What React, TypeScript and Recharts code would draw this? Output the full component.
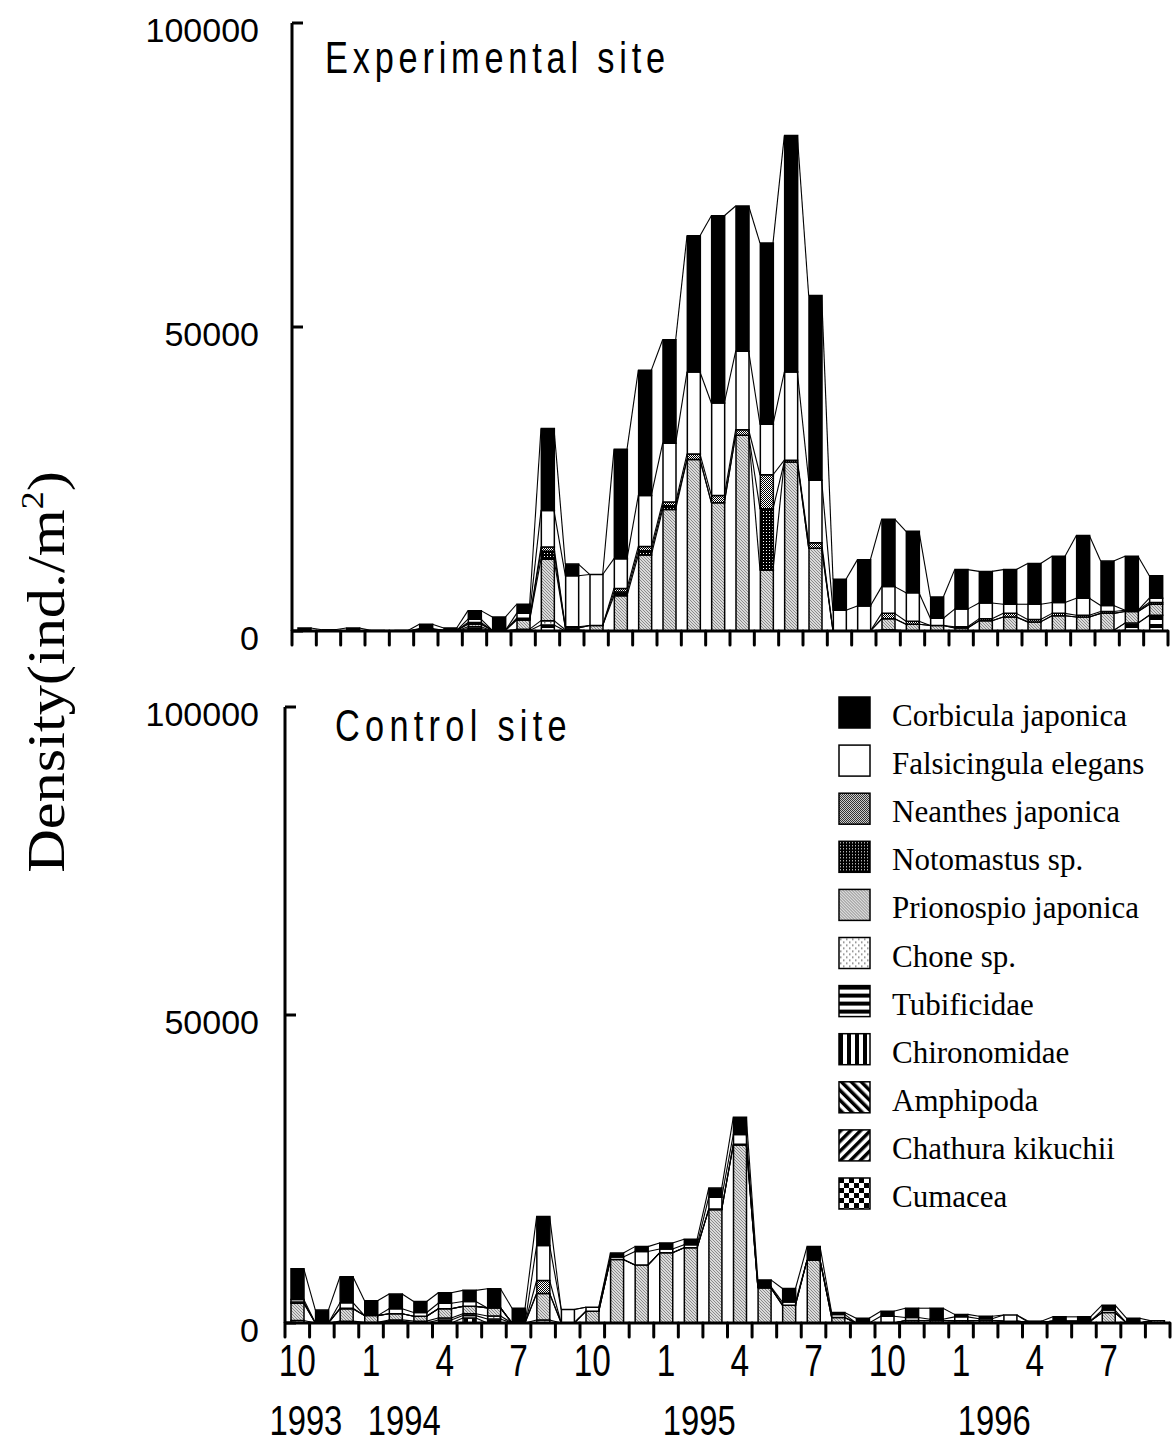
import React from 'react';
import { ComposedChart, Bar, Line, XAxis, YAxis, Legend } from 'recharts';

// ---------- categories & tick labels ----------
const months = [
  'Oct 1993', 'Nov 1993', 'Dec 1993', 'Jan 1994', 'Feb 1994', 'Mar 1994', 'Apr 1994', 'May 1994', 'Jun 1994',
  'Jul 1994', 'Aug 1994', 'Sep 1994', 'Oct 1994', 'Nov 1994', 'Dec 1994', 'Jan 1995', 'Feb 1995', 'Mar 1995',
  'Apr 1995', 'May 1995', 'Jun 1995', 'Jul 1995', 'Aug 1995', 'Sep 1995', 'Oct 1995', 'Nov 1995', 'Dec 1995',
  'Jan 1996', 'Feb 1996', 'Mar 1996', 'Apr 1996', 'May 1996', 'Jun 1996', 'Jul 1996', 'Aug 1996', 'Sep 1996',
];
const monthTickLabels = [
  '10', '', '', '1', '', '', '4', '', '', '7', '', '', '10', '', '', '1', '', '', '4', '', '', '7', '', '',
  '10', '', '', '1', '', '', '4', '', '', '7', '', '',
];
const yearTickLabels = [
  '1993', '', '', '', '1994', '', '', '', '', '', '', '', '', '', '', '', '1995', '', '', '', '', '', '', '',
  '', '', '', '', '1996', '', '', '', '', '', '', '',
];
const densityTicks = [0, 50000, 100000];

// ---------- species (legend order, top of stack first) ----------
const speciesNames = [
  'Corbicula japonica', 'Falsicingula elegans', 'Neanthes japonica', 'Notomastus sp.', 'Prionospio japonica',
  'Chone sp.', 'Tubificidae', 'Chironomidae', 'Amphipoda', 'Chathura kikuchii', 'Cumacea',
];
const speciesKeys = [
  'corbicula', 'falsicingula', 'neanthes', 'notomastus', 'prionospio', 'chone', 'tubificidae', 'chironomidae',
  'amphipoda', 'chathura', 'cumacea',
];

// ---------- Experimental site (ind./m2) ----------
const expCorbicula = [500, 200, 500, 100, 100, 700, 400, 1400, 2200, 1500, 13500, 1900, 0, 18000, 20600, 17000, 22400, 30800, 23900, 29800, 38900, 30400, 5100, 7600, 11100, 10100, 3500, 6500, 5200, 5700, 6700, 7600, 10300, 7300, 8900, 3700];
const expFalsicingula = [0, 0, 0, 0, 0, 100, 0, 550, 0, 800, 6000, 8400, 8400, 4900, 8400, 9700, 13500, 15200, 12900, 8300, 14500, 10300, 3400, 4100, 4400, 4700, 1200, 2900, 2600, 1500, 2500, 1800, 2800, 1000, 0, 700];
const expNeanthes = [0, 0, 0, 0, 0, 100, 0, 200, 0, 200, 700, 200, 0, 600, 700, 600, 900, 1200, 900, 5600, 300, 900, 0, 0, 900, 500, 0, 200, 300, 600, 400, 400, 300, 300, 200, 300];
const expNotomastus = [0, 0, 0, 0, 0, 0, 0, 100, 0, 100, 1300, 0, 0, 600, 700, 600, 0, 0, 0, 10100, 0, 0, 0, 0, 0, 0, 0, 0, 0, 0, 0, 0, 0, 0, 0, 0];
const expPrionospio = [0, 0, 0, 0, 0, 200, 100, 400, 100, 1500, 10100, 300, 900, 5800, 12500, 20000, 28200, 21100, 32200, 10000, 27800, 13600, 0, 0, 1800, 1100, 900, 500, 1700, 2300, 1500, 2500, 2300, 2800, 1900, 1800];
const expChone = [0, 0, 0, 0, 0, 0, 0, 300, 0, 200, 700, 200, 0, 0, 0, 0, 0, 0, 0, 0, 0, 0, 0, 0, 200, 0, 0, 0, 0, 0, 0, 0, 0, 0, 0, 0];
const expTubificidae = [0, 0, 0, 0, 0, 0, 0, 200, 0, 100, 1000, 0, 0, 0, 0, 0, 0, 0, 0, 0, 0, 0, 0, 0, 0, 0, 0, 0, 0, 0, 0, 0, 0, 100, 1200, 2600];
const expChironomidae = [0, 0, 0, 0, 0, 0, 0, 100, 0, 0, 0, 0, 0, 0, 0, 0, 0, 0, 0, 0, 0, 0, 0, 0, 0, 0, 0, 0, 0, 0, 0, 0, 0, 0, 0, 0];
const expAmphipoda = [0, 0, 0, 0, 0, 0, 0, 100, 0, 0, 0, 0, 0, 0, 0, 0, 0, 0, 0, 0, 0, 0, 0, 0, 0, 0, 0, 0, 0, 0, 0, 0, 0, 0, 0, 0];
const expChathura = [0, 0, 0, 0, 0, 0, 0, 0, 0, 0, 0, 0, 0, 0, 0, 0, 0, 0, 0, 0, 0, 0, 0, 0, 0, 0, 0, 0, 0, 0, 0, 0, 0, 0, 100, 0];
const expCumacea = [0, 0, 0, 0, 0, 0, 0, 0, 0, 0, 0, 0, 0, 0, 0, 0, 0, 0, 0, 0, 0, 0, 0, 0, 0, 0, 0, 0, 0, 0, 0, 0, 0, 0, 0, 0];

// ---------- Control site (ind./m2) ----------
const ctlCorbicula = [5000, 2100, 4200, 2400, 2400, 1800, 1700, 1800, 3100, 2400, 4700, 0, 0, 650, 800, 1000, 900, 1500, 2800, 1100, 2200, 2200, 300, 760, 800, 1500, 1800, 400, 400, 0, 200, 700, 700, 800, 760, 0];
const ctlFalsicingula = [400, 0, 900, 0, 800, 600, 900, 800, 0, 0, 5700, 2200, 650, 400, 2200, 600, 500, 1900, 1600, 200, 500, 0, 500, 0, 1100, 500, 200, 650, 300, 1000, 0, 0, 0, 400, 0, 0];
const ctlNeanthes = [200, 0, 100, 0, 0, 0, 0, 0, 0, 0, 2100, 0, 0, 0, 0, 0, 0, 100, 100, 0, 0, 0, 0, 0, 0, 0, 0, 0, 0, 0, 0, 0, 0, 0, 0, 0];
const ctlNotomastus = [0, 0, 0, 0, 0, 0, 0, 0, 0, 0, 0, 0, 0, 0, 0, 0, 0, 0, 0, 0, 0, 0, 0, 0, 0, 0, 0, 0, 0, 0, 0, 0, 0, 0, 0, 0];
const ctlPrionospio = [2800, 0, 2000, 1100, 1000, 800, 1500, 1200, 1300, 0, 4300, 0, 1900, 10300, 9400, 11400, 12200, 18400, 28900, 5700, 2900, 10200, 900, 0, 0, 300, 300, 350, 300, 200, 100, 200, 200, 1700, 0, 350];
const ctlChone = [400, 0, 300, 100, 200, 300, 300, 300, 500, 0, 500, 0, 0, 0, 0, 0, 0, 0, 0, 0, 0, 0, 0, 0, 0, 100, 100, 0, 100, 100, 0, 100, 100, 0, 0, 0];
const ctlTubificidae = [0, 0, 0, 0, 0, 0, 500, 400, 650, 0, 0, 0, 0, 0, 0, 0, 0, 0, 0, 0, 0, 0, 0, 0, 0, 0, 0, 0, 0, 0, 0, 0, 0, 0, 0, 0];
const ctlChironomidae = [0, 0, 0, 0, 300, 0, 0, 800, 0, 0, 0, 0, 0, 0, 0, 0, 0, 0, 0, 0, 0, 0, 0, 0, 0, 0, 0, 0, 0, 0, 0, 0, 0, 0, 0, 0];
const ctlAmphipoda = [0, 0, 0, 0, 0, 0, 0, 0, 0, 0, 0, 0, 0, 0, 0, 0, 0, 0, 0, 0, 0, 0, 0, 0, 0, 0, 0, 0, 0, 0, 0, 0, 0, 0, 0, 0];
const ctlChathura = [0, 0, 0, 0, 0, 0, 0, 0, 0, 0, 0, 0, 0, 0, 0, 0, 0, 0, 0, 0, 0, 0, 0, 0, 0, 0, 0, 0, 0, 0, 0, 0, 0, 0, 0, 0];
const ctlCumacea = [0, 0, 0, 0, 0, 0, 0, 0, 0, 0, 0, 0, 0, 0, 0, 0, 0, 0, 0, 0, 0, 0, 0, 0, 0, 0, 0, 0, 0, 0, 0, 0, 0, 0, 0, 0];

const expSeries = [expCorbicula, expFalsicingula, expNeanthes, expNotomastus, expPrionospio, expChone, expTubificidae, expChironomidae, expAmphipoda, expChathura, expCumacea];
const ctlSeries = [ctlCorbicula, ctlFalsicingula, ctlNeanthes, ctlNotomastus, ctlPrionospio, ctlChone, ctlTubificidae, ctlChironomidae, ctlAmphipoda, ctlChathura, ctlCumacea];

// ---------- styling ----------
const patternIds = ['p-corb', 'p-fals', 'p-nean', 'p-noto', 'p-prio', 'p-chon', 'p-tubi', 'p-chir', 'p-amph', 'p-chat', 'p-cuma'];
const BAR_SIZE = 13;
const SANS = "'Liberation Sans', Arial, Helvetica, sans-serif";
const SERIF = "'Liberation Serif', 'Times New Roman', Times, serif";

const buildRows = (series: number[][]) =>
  months.map((m, i) => {
    const row: Record<string, any> = { month: m };
    speciesKeys.forEach((k, s) => {
      row[k] = series[s][i];
    });
    return row;
  });

const expData = buildRows(expSeries);
const ctlData = buildRows(ctlSeries);

// stack order from bottom to top
const stackKeys = [...speciesKeys].reverse();
const stackPatterns = [...patternIds].reverse();

const cumulative = (row: Record<string, any>, level: number) => {
  let s = 0;
  for (let i = 0; i <= level; i++) s += row[stackKeys[i]] || 0;
  return s;
};

const Patterns = () => (
  <svg width={0} height={0} style={{ position: 'absolute' }}>
    <defs>
      <pattern id="p-corb" width="4" height="4" patternUnits="userSpaceOnUse">
        <rect width="4" height="4" fill="#000" />
      </pattern>
      <pattern id="p-fals" width="4" height="4" patternUnits="userSpaceOnUse">
        <rect width="4" height="4" fill="#fff" />
      </pattern>
      <pattern id="p-nean" width="2" height="2" patternUnits="userSpaceOnUse">
        <rect width="2" height="2" fill="#fff" />
        <rect width="1" height="1" fill="#000" />
        <rect x="1" y="1" width="1" height="1" fill="#000" />
      </pattern>
      <pattern id="p-noto" width="3" height="3" patternUnits="userSpaceOnUse">
        <rect width="3" height="3" fill="#000" />
        <rect x="1" y="1" width="1" height="1" fill="#fff" />
      </pattern>
      <pattern id="p-prio" width="3" height="3" patternUnits="userSpaceOnUse">
        <rect width="3" height="3" fill="#dadada" />
        <rect x="0" y="0" width="1" height="1" fill="#8a8a8a" />
        <rect x="1" y="1" width="1" height="1" fill="#8a8a8a" />
        <rect x="2" y="2" width="1" height="1" fill="#8a8a8a" />
      </pattern>
      <pattern id="p-chon" width="6" height="6" patternUnits="userSpaceOnUse">
        <rect width="6" height="6" fill="#fff" />
        <rect x="1" y="1" width="1.5" height="1.5" fill="#777" />
        <rect x="4" y="4" width="1.5" height="1.5" fill="#777" />
      </pattern>
      <pattern id="p-tubi" width="8" height="8" patternUnits="userSpaceOnUse">
        <rect width="8" height="8" fill="#fff" />
        <rect width="8" height="4" fill="#000" />
      </pattern>
      <pattern id="p-chir" width="8" height="8" patternUnits="userSpaceOnUse">
        <rect width="8" height="8" fill="#fff" />
        <rect width="4" height="8" fill="#000" />
      </pattern>
      <pattern id="p-amph" width="7" height="7" patternUnits="userSpaceOnUse" patternTransform="rotate(-45)">
        <rect width="7" height="7" fill="#fff" />
        <rect width="3.5" height="7" fill="#000" />
      </pattern>
      <pattern id="p-chat" width="7" height="7" patternUnits="userSpaceOnUse" patternTransform="rotate(45)">
        <rect width="7" height="7" fill="#fff" />
        <rect width="3.5" height="7" fill="#000" />
      </pattern>
      <pattern id="p-cuma" width="10" height="10" patternUnits="userSpaceOnUse">
        <rect width="10" height="10" fill="#fff" />
        <rect width="5" height="5" fill="#000" />
        <rect x="5" y="5" width="5" height="5" fill="#000" />
      </pattern>
    </defs>
  </svg>
);

// series line joining the stack boundaries of neighbouring columns
const connectorDot = (props: any) => {
  const { cx, cy, index, points } = props;
  const next = Array.isArray(points) ? points[index + 1] : undefined;
  if (cx == null || cy == null || !next || next.x == null || next.y == null) {
    return <g key={`cn-${index}`} />;
  }
  return (
    <line
      key={`cn-${index}`}
      x1={cx + BAR_SIZE / 2}
      y1={cy}
      x2={next.x - BAR_SIZE / 2}
      y2={next.y}
      stroke="#000"
      strokeWidth={1.1}
    />
  );
};

const MonthTick = (props: any) => {
  const { x, y, payload, width, showLabels } = props;
  const count = months.length;
  const band = typeof width === 'number' && width > 0 ? width / count : (payload?.offset || 12) * 2;
  const idx = payload?.index ?? 0;
  const left = x - band / 2;
  const label = monthTickLabels[idx];
  const year = yearTickLabels[idx];
  return (
    <g>
      <line x1={left} y1={y} x2={left} y2={y + 14} stroke="#000" strokeWidth={3} strokeLinecap="round" />
      {idx === count - 1 && (
        <line x1={x + band / 2} y1={y} x2={x + band / 2} y2={y + 14} stroke="#000" strokeWidth={3} strokeLinecap="round" />
      )}
      {showLabels && label && (
        <g transform={`translate(${x},${y + 53}) scale(0.76,1)`}>
          <text x={0} y={0} textAnchor="middle" fontSize={44} fontFamily={SANS} fill="#000">
            {label}
          </text>
        </g>
      )}
      {showLabels && year && (
        <g transform={`translate(${x + band * 0.35},${y + 112}) scale(0.78,1)`}>
          <text x={0} y={0} textAnchor="middle" fontSize={42} fontFamily={SANS} fill="#000">
            {year}
          </text>
        </g>
      )}
    </g>
  );
};

const DensityTick = (props: any) => {
  const { x, y, payload, gap } = props;
  return (
    <g>
      <line x1={x} y1={y} x2={x + 11} y2={y} stroke="#000" strokeWidth={3} />
      <text x={x - gap} y={y + 19} textAnchor="end" fontSize={34} fontFamily={SANS} fill="#000">
        {payload.value}
      </text>
    </g>
  );
};

const SpeciesLegend = () => (
  <svg width={330} height={540}>
    {speciesNames.map((name, i) => (
      <g key={name} transform={`translate(1,${1 + i * 48.1})`}>
        <rect x={0} y={0} width={31} height={31} fill={`url(#${patternIds[i]})`} stroke="#000" strokeWidth={1.5} />
        <text x={53} y={29} fontSize={31} fontFamily={SERIF} fill="#000">
          {name}
        </text>
      </g>
    ))}
  </svg>
);

type SiteProps = {
  data: Record<string, any>[];
  width: number;
  height: number;
  margin: { top: number; right: number; bottom: number; left: number };
  xAxisHeight: number;
  yLabelGap: number;
  showLabels: boolean;
  withLegend?: boolean;
};

const SiteChart = ({ data, width, height, margin, xAxisHeight, yLabelGap, showLabels, withLegend }: SiteProps) => (
  <ComposedChart width={width} height={height} data={data} margin={margin} barSize={BAR_SIZE} barGap={0}>
    <XAxis
      dataKey="month"
      interval={0}
      tickSize={0}
      tickMargin={0}
      tickLine={false}
      height={xAxisHeight}
      axisLine={{ stroke: '#000', strokeWidth: 3 }}
      tick={(p: any) => <MonthTick {...p} showLabels={showLabels} />}
    />
    <YAxis
      type="number"
      domain={[0, 100000]}
      ticks={densityTicks}
      allowDataOverflow
      width={60}
      tickSize={0}
      tickMargin={0}
      tickLine={false}
      axisLine={{ stroke: '#000', strokeWidth: 3 }}
      tick={(p: any) => <DensityTick {...p} gap={yLabelGap} />}
    />
    {stackKeys.map((k, i) => (
      <Bar
        key={k}
        dataKey={k}
        stackId="site"
        fill={`url(#${stackPatterns[i]})`}
        stroke="#000"
        strokeWidth={1.5}
        isAnimationActive={false}
      />
    ))}
    {stackKeys.map((k, level) => (
      <Line
        key={`line-${k}`}
        dataKey={(row: Record<string, any>) => cumulative(row, level)}
        stroke="none"
        dot={connectorDot}
        activeDot={false}
        legendType="none"
        isAnimationActive={false}
      />
    ))}
    {withLegend && (
      <Legend
        layout="vertical"
        align="center"
        verticalAlign="middle"
        wrapperStyle={{ left: 838, top: 16, width: 330, height: 540 }}
        content={() => <SpeciesLegend />}
      />
    )}
  </ComposedChart>
);

export default function App() {
  return (
    <div style={{ position: 'absolute', left: 0, top: 0, width: 1175, height: 1445, background: '#fff' }}>
      <Patterns />
      <div style={{ position: 'absolute', left: 0, top: 0 }}>
        <SiteChart
          data={expData}
          width={1175}
          height={680}
          margin={{ top: 23, right: 7, bottom: 29, left: 232 }}
          xAxisHeight={20}
          yLabelGap={33}
          showLabels={false}
        />
      </div>
      <div style={{ position: 'absolute', left: 0, top: 680 }}>
        <SiteChart
          data={ctlData}
          width={1175}
          height={765}
          margin={{ top: 27, right: 5, bottom: 12, left: 225 }}
          xAxisHeight={110}
          yLabelGap={26}
          showLabels={true}
          withLegend
        />
      </div>
      <svg
        width={1175}
        height={1445}
        style={{ position: 'absolute', left: 0, top: 0, pointerEvents: 'none' }}
      >
        <g transform="translate(325,73) scale(0.78,1)">
          <text x={0} y={0} fontSize={44} fontFamily={SANS} textLength={436} lengthAdjust="spacing" fill="#000">
            Experimental site
          </text>
        </g>
        <g transform="translate(335,741) scale(0.78,1)">
          <text x={0} y={0} fontSize={44} fontFamily={SANS} textLength={297} lengthAdjust="spacing" fill="#000">
            Control site
          </text>
        </g>
        <text
          transform="translate(64,672) rotate(-90) scale(1.16,1)"
          x={0}
          y={0}
          textAnchor="middle"
          fontSize={52}
          fontFamily={SERIF}
          fill="#000"
        >
          Density(ind./m<tspan dy={-21} fontSize={31}>2</tspan>
          <tspan dy={21}>)</tspan>
        </text>
      </svg>
    </div>
  );
}
